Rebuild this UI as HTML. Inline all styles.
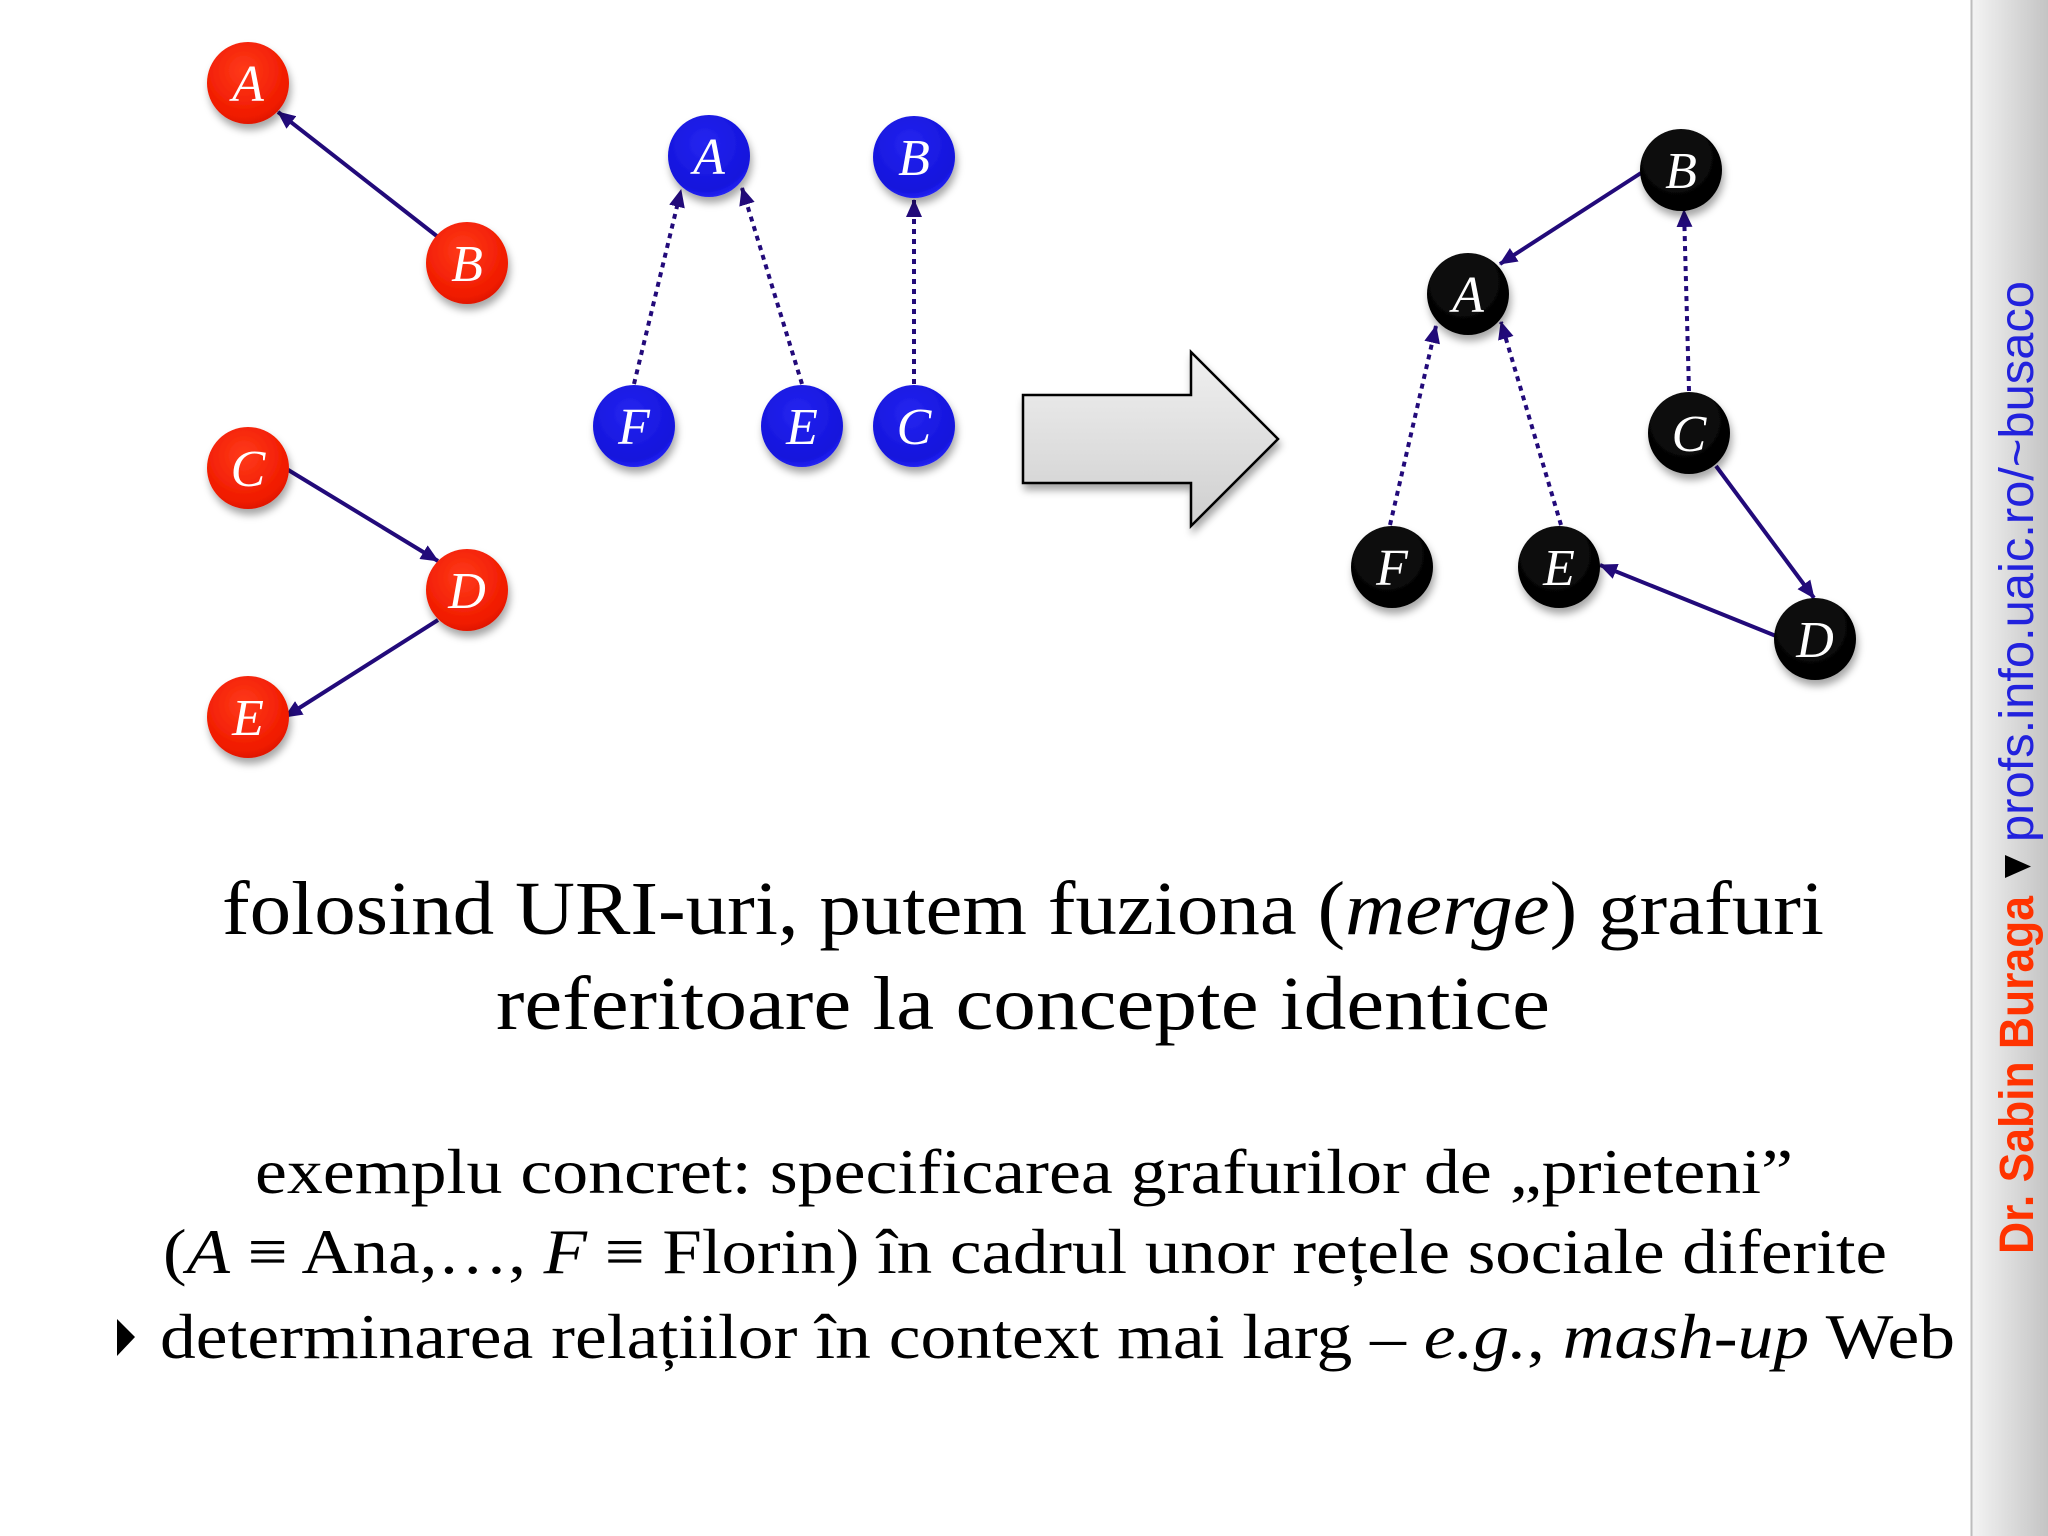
<!DOCTYPE html>
<html><head><meta charset="utf-8"><style>
html,body{margin:0;padding:0;background:#fff;}
svg{display:block;}
</style></head><body>
<svg width="2048" height="1536" viewBox="0 0 2048 1536" xmlns="http://www.w3.org/2000/svg">
<defs>
<radialGradient id="gr" cx="0.45" cy="0.35" r="0.7"><stop offset="0" stop-color="#ff3a1a"/><stop offset="0.8" stop-color="#f01a00"/><stop offset="1" stop-color="#d81800"/></radialGradient>
<radialGradient id="gb" cx="0.45" cy="0.35" r="0.7"><stop offset="0" stop-color="#2525f0"/><stop offset="0.8" stop-color="#1414dc"/><stop offset="1" stop-color="#2a2aff"/></radialGradient>
<radialGradient id="gk" cx="0.45" cy="0.35" r="0.7"><stop offset="0" stop-color="#111"/><stop offset="1" stop-color="#000"/></radialGradient>
<linearGradient id="side" x1="0" x2="1" y1="0" y2="0"><stop offset="0" stop-color="#f4f4f4"/><stop offset="1" stop-color="#c4c4c4"/></linearGradient>
<linearGradient id="arr" x1="0" x2="0" y1="0" y2="1"><stop offset="0" stop-color="#f0f0f0"/><stop offset="1" stop-color="#cfcfcf"/></linearGradient>
<filter id="sh" x="-30%" y="-30%" width="160%" height="170%"><feDropShadow dx="2" dy="6" stdDeviation="4" flood-color="#000" flood-opacity="0.35"/></filter>
<marker id="ah2" markerWidth="18" markerHeight="16" refX="17" refY="8" orient="auto" markerUnits="userSpaceOnUse"><path d="M0,0 L18,8 L0,16 Z" fill="#220a7a"/></marker>
</defs>
<rect x="1971" y="0" width="77" height="1536" fill="url(#side)"/>
<line x1="1971.5" y1="0" x2="1971.5" y2="1536" stroke="#bdbdbd" stroke-width="2"/>

<g stroke="#220a7a" stroke-width="4" fill="none">
<line x1="438" y1="237" x2="278" y2="112" marker-end="url(#ah2)"/>
<line x1="285" y1="468" x2="438" y2="561" marker-end="url(#ah2)"/>
<line x1="438" y1="620" x2="285" y2="717" marker-end="url(#ah2)"/>
<g stroke-dasharray="5 5">
<line x1="634" y1="384" x2="681" y2="190" marker-end="url(#ah2)"/>
<line x1="802" y1="384" x2="742" y2="188" marker-end="url(#ah2)"/>
<line x1="914" y1="384" x2="914" y2="200" marker-end="url(#ah2)"/>
<line x1="1689" y1="391" x2="1684" y2="210" marker-end="url(#ah2)"/>
<line x1="1390" y1="525" x2="1436" y2="326" marker-end="url(#ah2)"/>
<line x1="1561" y1="525" x2="1501" y2="322" marker-end="url(#ah2)"/>
</g>
<line x1="1641" y1="173" x2="1500" y2="264" marker-end="url(#ah2)"/>
<line x1="1716" y1="466" x2="1814" y2="598" marker-end="url(#ah2)"/>
<line x1="1776" y1="636" x2="1600" y2="565" marker-end="url(#ah2)"/>
</g>

<g font-family="Liberation Serif, serif" font-style="italic" font-size="52" fill="#fff" text-anchor="middle">
<g filter="url(#sh)">
<circle cx="248" cy="83" r="41" fill="url(#gr)"/>
<circle cx="467" cy="263" r="41" fill="url(#gr)"/>
<circle cx="248" cy="468" r="41" fill="url(#gr)"/>
<circle cx="467" cy="590" r="41" fill="url(#gr)"/>
<circle cx="248" cy="717" r="41" fill="url(#gr)"/>
<circle cx="709" cy="156" r="41" fill="url(#gb)"/>
<circle cx="914" cy="157" r="41" fill="url(#gb)"/>
<circle cx="634" cy="426" r="41" fill="url(#gb)"/>
<circle cx="802" cy="426" r="41" fill="url(#gb)"/>
<circle cx="914" cy="426" r="41" fill="url(#gb)"/>
<circle cx="1681" cy="170" r="41" fill="url(#gk)"/>
<circle cx="1468" cy="294" r="41" fill="url(#gk)"/>
<circle cx="1689" cy="433" r="41" fill="url(#gk)"/>
<circle cx="1392" cy="567" r="41" fill="url(#gk)"/>
<circle cx="1559" cy="567" r="41" fill="url(#gk)"/>
<circle cx="1815" cy="639" r="41" fill="url(#gk)"/>
</g>
<text x="248" y="101">A</text><text x="467" y="281">B</text><text x="248" y="486">C</text><text x="467" y="608">D</text><text x="248" y="735">E</text>
<text x="709" y="174">A</text><text x="914" y="175">B</text><text x="634" y="444">F</text><text x="802" y="444">E</text><text x="914" y="444">C</text>
<text x="1681" y="188">B</text><text x="1468" y="312">A</text><text x="1689" y="451">C</text><text x="1392" y="585">F</text><text x="1559" y="585">E</text><text x="1815" y="657">D</text>
</g>

<path d="M1023,395 L1191,395 L1191,352 L1278,439 L1191,526 L1191,483 L1023,483 Z" fill="url(#arr)" stroke="#000" stroke-width="2.5" filter="url(#sh)"/>

<g font-family="Liberation Serif, serif" fill="#000">
<text x="222" y="934" font-size="76" textLength="1602" lengthAdjust="spacingAndGlyphs">folosind URI-uri, putem fuziona (<tspan font-style="italic">merge</tspan>) grafuri</text>
<text x="496" y="1029" font-size="76" textLength="1054" lengthAdjust="spacingAndGlyphs">referitoare la concepte identice</text>
<text x="255" y="1193" font-size="64" textLength="1538" lengthAdjust="spacingAndGlyphs">exemplu concret: specificarea grafurilor de „prieteni”</text>
<text x="163" y="1273" font-size="64" textLength="1724" lengthAdjust="spacingAndGlyphs">(<tspan font-style="italic">A</tspan> ≡ Ana,…, <tspan font-style="italic">F</tspan> ≡ Florin) în cadrul unor rețele sociale diferite</text>
<path d="M117,1319 L135,1337 L117,1356 Z" fill="#000"/>
<text x="160" y="1358" font-size="64" textLength="1795" lengthAdjust="spacingAndGlyphs">determinarea relațiilor în context mai larg – <tspan font-style="italic">e.g.</tspan>, <tspan font-style="italic">mash-up</tspan> Web</text>
</g>

<g transform="translate(2033,1254) rotate(-90)" font-family="Liberation Sans, sans-serif" font-size="48">
<text x="0" y="0" fill="#ff3300" font-weight="bold" textLength="358" lengthAdjust="spacingAndGlyphs">Dr. Sabin Buraga</text>
<path d="M376,-28 L399,-28 L387.5,-2 Z" fill="#000"/>
<text x="412" y="0" fill="#2222dd" textLength="561" lengthAdjust="spacingAndGlyphs">profs.info.uaic.ro/~busaco</text>
</g>
</svg>
</body></html>
